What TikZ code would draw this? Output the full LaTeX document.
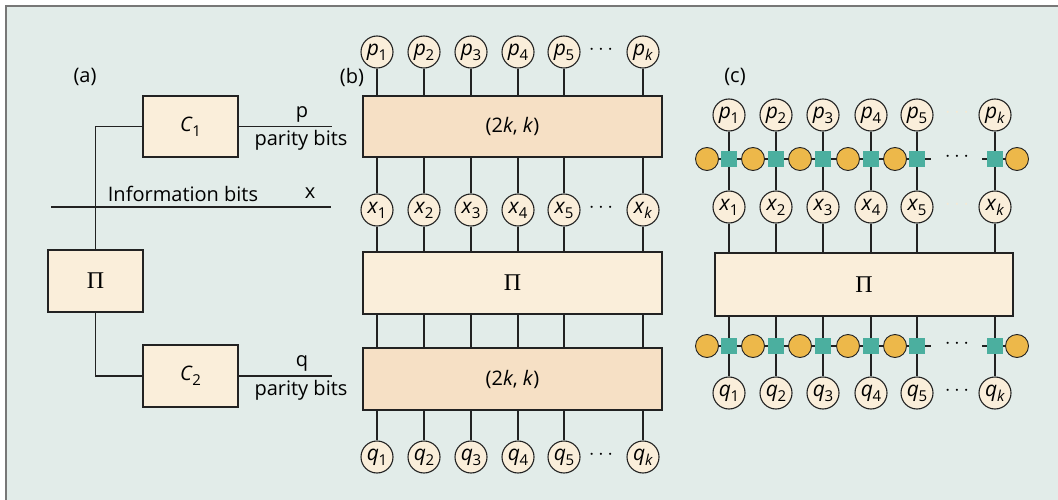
\documentclass[tikz,border=0pt]{standalone}
\usepackage{fontspec}
\setmainfont{Open Sans}
\newfontfamily\pifont{Liberation Serif}
\definecolor{bgc}{HTML}{E2ECE9}
\definecolor{lightfill}{HTML}{FAEEDA}
\definecolor{darkfill}{HTML}{F6E0C5}
\definecolor{orangec}{HTML}{EDB84A}
\definecolor{tealc}{HTML}{4BAF9F}
\definecolor{linec}{HTML}{222222}
\definecolor{framec}{HTML}{777777}
\definecolor{faintc}{HTML}{F4EAD6}
\newcommand{\vv}[2]{\textit{#1}\kern-0.3pt\raisebox{-0.45ex}{\fontsize{15}{16}\selectfont #2}}
\newcommand{\bigpi}{{\pifont\fontsize{24}{25}\selectfont Π}}
\tikzset{
  circ/.style={circle, draw=linec, fill=lightfill, minimum size=32pt, inner sep=0pt, line width=1.1pt, font=\fontsize{21}{22}\selectfont},
  lbox/.style={draw=linec, fill=lightfill, line width=1.3pt, inner sep=0pt, font=\fontsize{20}{22}\selectfont},
  dbox/.style={draw=linec, fill=darkfill, line width=1.3pt, inner sep=0pt, font=\fontsize{20}{22}\selectfont},
  wire/.style={draw=linec, line width=1.2pt},
  orng/.style={circle, draw=linec, fill=orangec, minimum size=23pt, inner sep=0pt, line width=0.9pt},
  sq/.style={rectangle, fill=tealc, minimum size=16pt, inner sep=0pt},
  lbl/.style={font=\fontsize{20}{22}\selectfont, inner sep=0pt},
  dots/.style={font=\fontsize{20}{22}\selectfont, inner sep=0pt}
}
\begin{document}
\begin{tikzpicture}[x=1pt,y=-1pt]
\useasboundingbox (0,0) rectangle (1058,500);
\fill[white] (0,0) rectangle (1058,500);
\fill[bgc] (6,6) rectangle (1058,500);
\draw[framec, line width=2.2pt] (6,500) -- (6,6) -- (1058,6);

% ---------- panel (a)
\node[lbl] (la) at (85,77) {(a)};
\node[lbox, minimum width=95pt, minimum height=61pt] (C1) at (190.5,126.5) {\vv{C}{1}};
\node[lbox, minimum width=95pt, minimum height=62pt] (PIa) at (95.5,281) {\bigpi};
\node[lbox, minimum width=95pt, minimum height=62pt] (C2) at (190.5,376) {\vv{C}{2}};
\coordinate (pend) at (332,126.5);
\coordinate (qend) at (332,376);
\coordinate (istart) at (51,207);
\coordinate (iend) at (331,207);
\draw[wire] (C1.west) -| (PIa.north);
\draw[wire] (PIa.south) |- (C2.west);
\draw[wire] (C1.east) -- (pend);
\draw[wire] (C2.east) -- (qend);
\draw[wire] (istart) -- (iend);
\node[lbl] (pl) at (302,114) {p};
\node[lbl] (pbl) at (301,140) {parity bits};
\node[lbl] (ql) at (302,363) {q};
\node[lbl] (qbl) at (301,390) {parity bits};
\node[lbl] (il) at (183,194) {Information bits};
\node[lbl] (xl) at (310,193) {x};

% ---------- panel (b)
\node[lbl] (lb) at (352,77) {(b)};
\node[dbox, minimum width=299pt, minimum height=61pt] (E1) at (512.5,126.5) {(2\textit{k}, \textit{k})};
\node[lbox, minimum width=299pt, minimum height=62pt] (PIb) at (512.5,283) {\bigpi};
\node[dbox, minimum width=299pt, minimum height=62pt] (E2) at (512.5,379) {(2\textit{k}, \textit{k})};
\foreach \i/\x/\s in {1/377/1,2/424/2,3/471/3,4/518/4,5/564/5,k/643/\textit{k}}{
  \node[circ] (bp\i) at (\x,52) {\vv{p}{\s}};
  \node[circ] (bx\i) at (\x,210) {\vv{x}{\s}};
  \node[circ] (bq\i) at (\x,457) {\vv{q}{\s}};
  \draw[wire] (bp\i.south) -- (bp\i |- E1.north);
  \draw[wire] (bx\i |- E1.south) -- (bx\i.north);
  \draw[wire] (bx\i.south) -- (bx\i |- PIb.north);
  \draw[wire] (bx\i |- PIb.south) -- (bx\i |- E2.north);
  \draw[wire] (bq\i |- E2.south) -- (bq\i.north);
}
\node[dots] (bdp) at (601,50) {$\cdots$};
\node[dots] (bdx) at (601,208) {$\cdots$};
\node[dots] (bdq) at (601,455) {$\cdots$};

% ---------- panel (c)
\node[lbl] (lc) at (735,77) {(c)};
\node[lbox, minimum width=298pt, minimum height=63pt] (PIc) at (864,284.5) {\bigpi};
\foreach \i/\x/\s in {1/729/1,2/776/2,3/823/3,4/871/4,5/917/5,k/995/\textit{k}}{
  \node[circ] (cp\i) at (\x,115) {\vv{p}{\s}};
  \node[circ] (cx\i) at (\x,207) {\vv{x}{\s}};
  \node[circ] (cq\i) at (\x,393) {\vv{q}{\s}};
  \draw[wire] (cp\i.south) -- (cx\i.north);
  \draw[wire] (cx\i.south) -- (cx\i |- PIc.north);
  \draw[wire] (cq\i |- PIc.south) -- (cq\i.north);
}
\foreach \r/\y in {u/159,l/346}{
  \coordinate (\r w1) at (707,\y);
  \coordinate (\r w2) at (931,\y);
  \coordinate (\r w3) at (982,\y);
  \coordinate (\r w4) at (1017,\y);
  \draw[wire] (\r w1) -- (\r w2);
  \draw[wire] (\r w3) -- (\r w4);
  \foreach \j/\ox in {1/707,2/753,3/800,4/848,5/895,6/1017}{
    \node[orng] (\r o\j) at (\ox,\y) {};
  }
  \foreach \i/\x in {1/729,2/776,3/823,4/871,5/917,k/995}{
    \node[sq] (\r s\i) at (\x,\y) {};
  }
  \node[dots] (\r d) at (957,\y-2) {$\cdots$};
}
\node[dots, text=faintc] (cdp) at (957,113) {$\cdots$};
\node[dots, text=faintc] (cdx) at (957,205) {$\cdots$};
\node[dots] (cdq) at (957,391) {$\cdots$};
\end{tikzpicture}
\end{document}
